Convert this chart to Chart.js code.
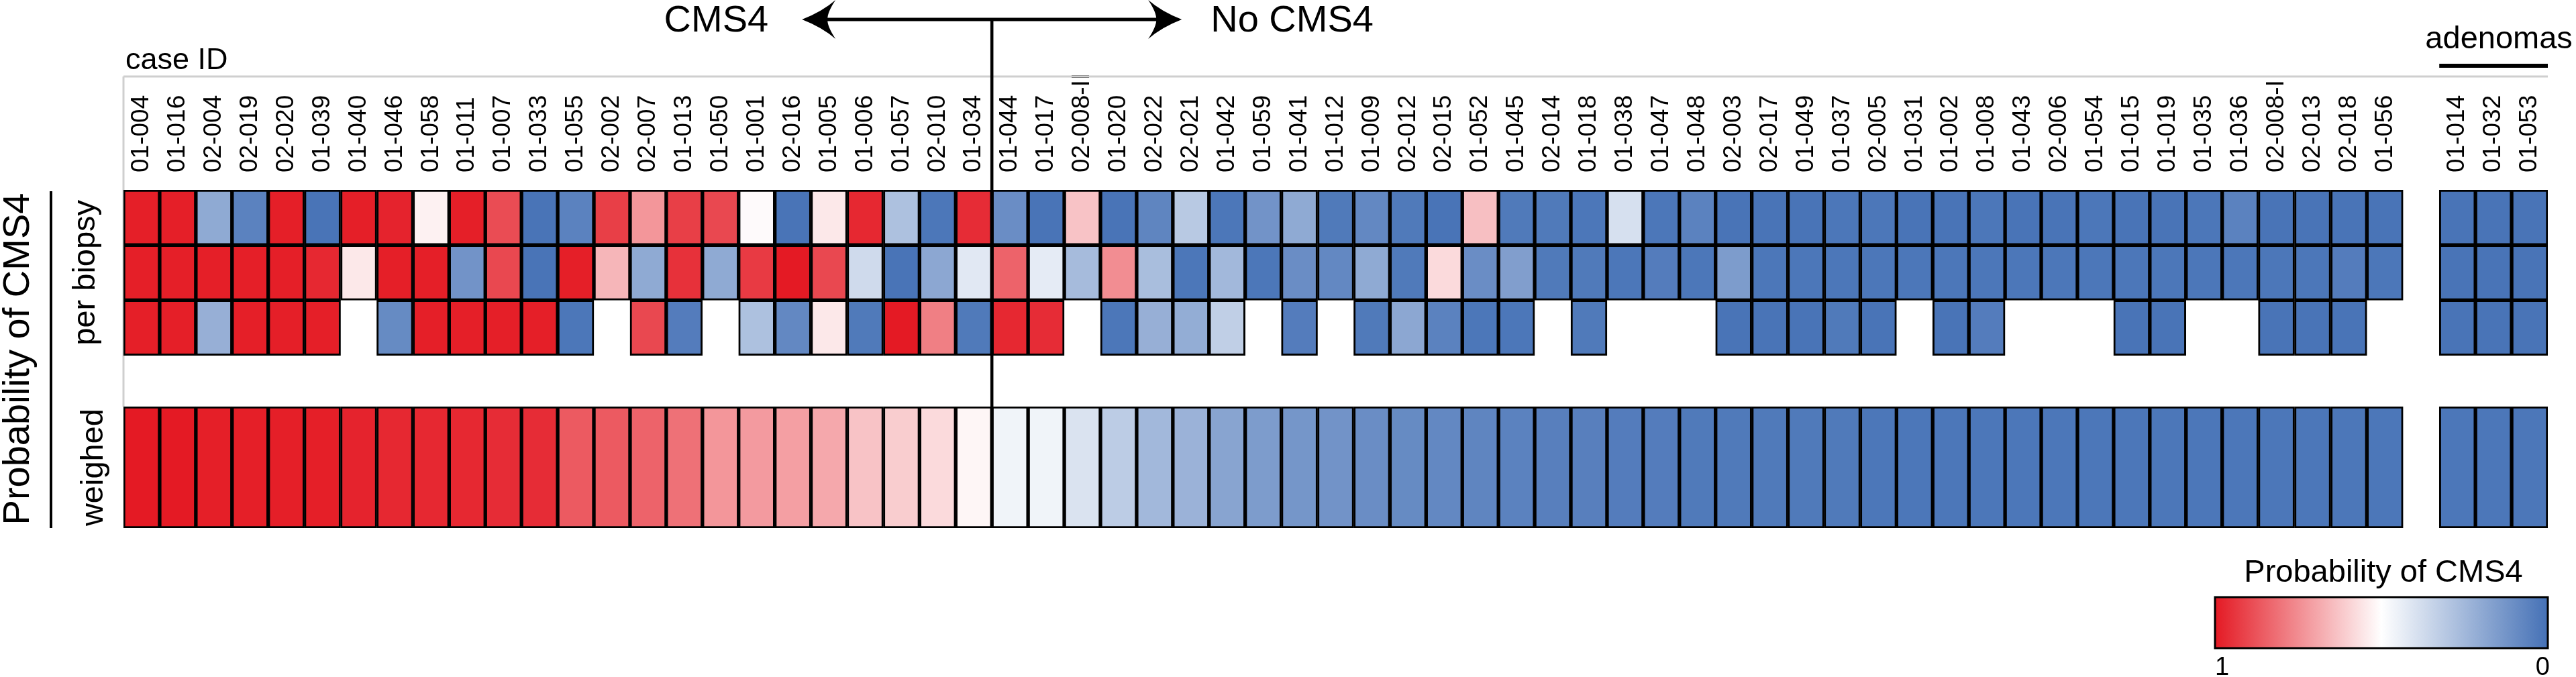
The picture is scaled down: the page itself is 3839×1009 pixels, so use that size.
<!DOCTYPE html>
<html><head><meta charset="utf-8">
<script src="https://cdn.jsdelivr.net/npm/chart.js@4.4.1/dist/chart.umd.min.js"></script>
<style>html,body{margin:0;padding:0;background:#fff;overflow:hidden}canvas{display:block}</style>
</head><body>
<canvas id="c" width="3839" height="1009" style="width:3839px;height:1009px"></canvas>
<script>
// ---------------- data ----------------
const caseIds = ['01-004','01-016','02-004','02-019','02-020','01-039','01-040','01-046','01-058','01-011',
 '01-007','01-033','01-055','02-002','02-007','01-013','01-050','01-001','02-016','01-005',
 '01-006','01-057','02-010','01-034','01-044','01-017','02-008-II','01-020','02-022','02-021',
 '01-042','01-059','01-041','01-012','01-009','02-012','02-015','01-052','01-045','02-014',
 '01-018','01-038','01-047','01-048','02-003','02-017','01-049','01-037','02-005','01-031',
 '01-002','01-008','01-043','02-006','01-054','01-015','01-019','01-035','01-036','02-008-I',
 '02-013','02-018','01-056'];
const adenomaIds = ['01-014','01-032','01-053'];
const cms4Count = 24;

const perBiopsy1 = [0.99,0.99,0.20,0.06,0.99,0.01,0.99,0.98,0.53,0.99,
 0.89,0.01,0.06,0.92,0.73,0.92,0.90,0.51,0.01,0.55,
 0.97,0.28,0.02,0.96,0.10,0.01,0.63,0.01,0.07,0.31,
 0.02,0.12,0.20,0.03,0.08,0.03,0.01,0.64,0.03,0.03,
 0.02,0.39,0.02,0.06,0.01,0.01,0.01,0.02,0.02,0.01,
 0.01,0.02,0.01,0.01,0.02,0.01,0.01,0.02,0.06,0.01,
 0.01,0.01,0.01];
const perBiopsy2 = [0.99,0.99,0.99,0.99,0.99,0.97,0.55,0.99,0.99,0.12,
 0.90,0.01,0.99,0.66,0.20,0.95,0.20,0.93,1.00,0.90,
 0.37,0.01,0.19,0.42,0.84,0.43,0.26,0.75,0.27,0.02,
 0.25,0.02,0.10,0.08,0.20,0.03,0.58,0.10,0.16,0.03,
 0.03,0.02,0.04,0.02,0.15,0.02,0.02,0.02,0.02,0.02,
 0.02,0.02,0.02,0.02,0.02,0.02,0.02,0.02,0.02,0.02,
 0.02,0.04,0.02];
const perBiopsy3 = [0.99,0.99,0.22,0.99,0.99,0.99,null,0.09,0.99,0.99,
 0.99,0.99,0.02,null,0.90,0.04,null,0.28,0.08,0.55,
 0.03,1.00,0.78,0.03,0.97,0.96,null,0.02,0.22,0.21,
 0.33,null,0.04,null,0.03,0.19,0.06,0.02,0.02,null,
 0.03,null,null,null,0.01,0.01,0.01,0.03,0.01,null,
 0.01,0.04,null,null,null,0.01,0.01,null,null,0.01,
 0.01,0.01,null];
const weighed = [1.00,1.00,0.99,0.99,0.99,0.99,0.98,0.97,0.97,0.97,
 0.96,0.96,0.86,0.86,0.84,0.81,0.73,0.72,0.71,0.69,
 0.63,0.61,0.58,0.52,0.46,0.46,0.40,0.32,0.25,0.23,
 0.18,0.15,0.13,0.12,0.10,0.09,0.08,0.07,0.06,0.05,
 0.05,0.04,0.04,0.03,0.03,0.03,0.03,0.03,0.02,0.02,
 0.02,0.02,0.02,0.02,0.02,0.02,0.02,0.02,0.02,0.02,
 0.02,0.02,0.02];
const adenomaBiopsy1 = [0.01,0.01,0.01];
const adenomaBiopsy2 = [0.01,0.01,0.01];
const adenomaBiopsy3 = [0.01,0.01,0.01];
const adenomaWeighed = [0.02,0.02,0.02];
const legendTickLabels = ['1','0'];

// ---------------- layout / style ----------------
const labels = [...caseIds, '', ...adenomaIds];
const join = (m, a) => [...m, null, ...a];
const rowSpans = [[0,1],[1,2],[2,3],[3.93,6.13]];
const rowValues = [join(perBiopsy1, adenomaBiopsy1), join(perBiopsy2, adenomaBiopsy2),
                   join(perBiopsy3, adenomaBiopsy3), join(weighed, adenomaWeighed)];
const RED=[228,26,36], WHITE=[255,255,255], BLUE=[69,113,182];
function colorFor(v){
  if (v == null) return 'rgba(0,0,0,0)';
  const t = v >= 0.5 ? (v-0.5)/0.5 : (0.5-v)/0.5;
  const b = v >= 0.5 ? RED : BLUE;
  const c = WHITE.map((w,i)=>Math.round(w + (b[i]-w)*t));
  return `rgb(${c[0]},${c[1]},${c[2]})`;
}
const FONT = "'Liberation Sans', Arial, Helvetica, sans-serif";
const f = s => `${s}px ${FONT}`;

const datasets = rowValues.map((vals, r) => ({
  data: vals.map(v => v == null ? null : rowSpans[r]),
  backgroundColor: vals.map(colorFor),
  borderColor: '#000', borderWidth: 3, borderSkipped: false,
  grouped: false, categoryPercentage: 1, barPercentage: 1
}));

const under = {
  id: 'under',
  beforeDatasetsDraw(chart){
    const {ctx, chartArea: ca, scales: {x, y}} = chart;
    const colW = x.getPixelForValue(1) - x.getPixelForValue(0);
    const right = x.getPixelForValue(labels.length-1) + colW/2;
    ctx.save();
    ctx.strokeStyle = '#cfcfcf'; ctx.lineWidth = 3;
    ctx.beginPath();
    ctx.moveTo(ca.left, 114); ctx.lineTo(right, 114);
    ctx.moveTo(ca.left, 114); ctx.lineTo(ca.left, y.getPixelForValue(rowSpans[3][0]));
    ctx.stroke();
    ctx.restore();
  }
};

function arrowHead(ctx, tipX, yc, dir){
  const L = 50, H = 29, N = 38;
  ctx.beginPath();
  ctx.moveTo(tipX, yc);
  ctx.quadraticCurveTo(tipX + dir*L*0.6, yc - H*0.4, tipX + dir*L, yc - H);
  ctx.quadraticCurveTo(tipX + dir*L*0.75, yc - H*0.35, tipX + dir*N, yc);
  ctx.quadraticCurveTo(tipX + dir*L*0.75, yc + H*0.35, tipX + dir*L, yc + H);
  ctx.quadraticCurveTo(tipX + dir*L*0.6, yc + H*0.4, tipX, yc);
  ctx.closePath();
  ctx.fill();
}

const over = {
  id: 'over',
  afterDraw(chart){
    const {ctx, chartArea: ca, scales: {x, y}} = chart;
    const colW = x.getPixelForValue(1) - x.getPixelForValue(0);
    const edge = i => x.getPixelForValue(i) - colW/2;
    ctx.save();
    ctx.fillStyle = '#000'; ctx.strokeStyle = '#000';

    // divider + arrow
    const xd = edge(cms4Count);
    const ay = 29;
    ctx.lineWidth = 4.5;
    ctx.beginPath(); ctx.moveTo(xd, ay); ctx.lineTo(xd, y.getPixelForValue(rowSpans[3][0]) + 2); ctx.stroke();
    const lt = xd - 283, rt = xd + 283;
    ctx.lineWidth = 5;
    ctx.beginPath(); ctx.moveTo(lt + 30, ay); ctx.lineTo(rt - 30, ay); ctx.stroke();
    arrowHead(ctx, lt, ay, 1);
    arrowHead(ctx, rt, ay, -1);
    ctx.font = f(56); ctx.textBaseline = 'alphabetic';
    ctx.textAlign = 'right'; ctx.fillText('CMS4', lt - 50, 47);
    ctx.textAlign = 'left'; ctx.fillText('No CMS4', rt + 43, 47);

    // case ID
    ctx.font = f(45); ctx.textAlign = 'left';
    ctx.fillText('case ID', ca.left + 3, 103);

    // adenomas
    const a0 = edge(caseIds.length + 1), a1 = edge(labels.length);
    ctx.lineWidth = 6;
    ctx.beginPath(); ctx.moveTo(a0, 98); ctx.lineTo(a1, 98); ctx.stroke();
    ctx.font = f(47); ctx.textAlign = 'center';
    ctx.fillText('adenomas', (a0 + a1)/2 + 8, 72);

    // left side titles
    const yTop = y.getPixelForValue(rowSpans[0][0]);
    const yBioB = y.getPixelForValue(rowSpans[2][1]);
    const yWT = y.getPixelForValue(rowSpans[3][0]);
    const yBot = y.getPixelForValue(rowSpans[3][1]);
    const vtext = (t, bx, cy, size) => {
      ctx.save(); ctx.translate(bx, cy); ctx.rotate(-Math.PI/2);
      ctx.font = f(size); ctx.textAlign = 'center'; ctx.textBaseline = 'alphabetic';
      ctx.fillText(t, 0, 0); ctx.restore();
    };
    vtext('Probability of CMS4', 43, (yTop + yBot)/2, 56);
    ctx.lineWidth = 4;
    ctx.beginPath(); ctx.moveTo(76, yTop + 2); ctx.lineTo(76, yBot); ctx.stroke();
    vtext('per biopsy', 141, (yTop + yBioB)/2, 47);
    vtext('weighed', 153, (yWT + yBot)/2, 47);

    // colour legend
    const lx0 = 3301, lx1 = a1, ly0 = 890, ly1 = 966;
    const g = ctx.createLinearGradient(lx0, 0, lx1, 0);
    g.addColorStop(0, colorFor(1)); g.addColorStop(0.5, colorFor(0.5)); g.addColorStop(1, colorFor(0));
    ctx.fillStyle = g; ctx.fillRect(lx0, ly0, lx1 - lx0, ly1 - ly0);
    ctx.lineWidth = 3; ctx.strokeStyle = '#000'; ctx.strokeRect(lx0, ly0, lx1 - lx0, ly1 - ly0);
    ctx.fillStyle = '#000';
    ctx.font = f(47); ctx.textAlign = 'center';
    ctx.fillText('Probability of CMS4', (lx0 + lx1)/2 + 3, 867);
    ctx.font = f(38);
    ctx.textAlign = 'left'; ctx.fillText(legendTickLabels[0], lx0, 1006);
    ctx.textAlign = 'right'; ctx.fillText(legendTickLabels[1], lx1 + 3, 1006);
    ctx.restore();
  }
};

new Chart(document.getElementById('c'), {
  type: 'bar',
  data: { labels, datasets },
  options: {
    responsive: false, animation: false, devicePixelRatio: 1,
    layout: { padding: { left: 184, right: 42, top: 0, bottom: 222 } },
    plugins: { legend: { display: false }, tooltip: { enabled: false } },
    scales: {
      x: {
        type: 'category', position: 'top', offset: true,
        grid: { display: false, drawTicks: false }, border: { display: false },
        ticks: { autoSkip: false, maxRotation: 90, minRotation: 90, mirror: true, padding: -26, color: '#000',
                 font: { family: FONT, size: 37 } },
        afterFit(s){ s.height = 283; }
      },
      y: { type: 'linear', min: 0, max: 6.13, reverse: true, display: false }
    }
  },
  plugins: [under, over]
});
</script>
</body></html>
